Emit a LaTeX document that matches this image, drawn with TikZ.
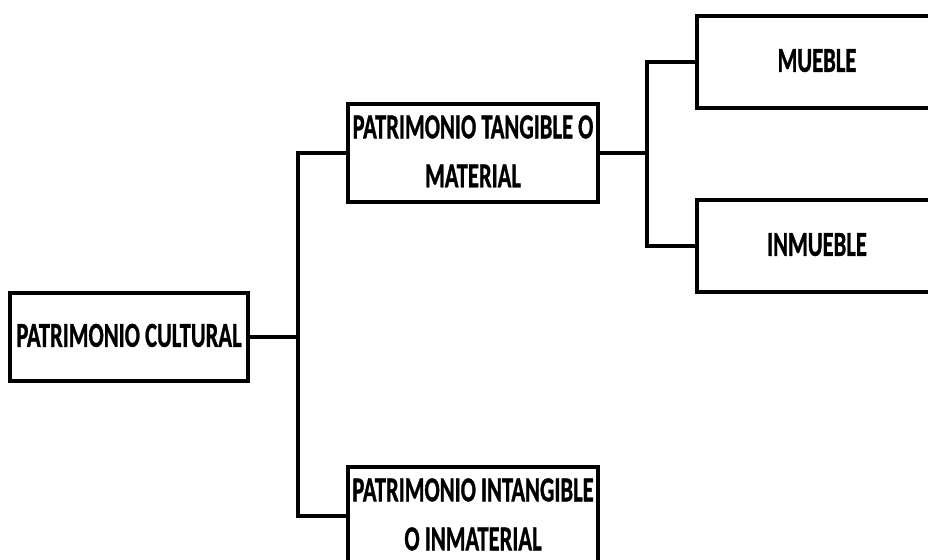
\documentclass[tikz,border=0pt]{standalone}
\usepackage{fontspec}
\setmainfont{Carlito}[BoldFeatures={FakeBold=1.2}]
\usepackage{graphicx}
\begin{document}
\begin{tikzpicture}[x=1pt,y=-1pt,
  box/.style={draw=black, line width=4.5pt, fill=white, rectangle, inner sep=0pt, outer sep=0pt,
    font=\bfseries\fontsize{22.6}{31.6}\selectfont},
  conn/.style={draw=black, line width=4.5pt}]
\clip (0,0) rectangle (928,559);
\fill[white] (0,0) rectangle (928,559);
\newcommand{\txt}[1]{\scalebox{1}[1.55]{\begin{tabular}{@{}c@{}}#1\end{tabular}}}
\node[box, minimum width=238pt, minimum height=88pt] (c) at (129,337) {\txt{PATRIMONIO CULTURAL}};
\node[box, minimum width=250pt, minimum height=90pt] (t) at (473,153) {\txt{PATRIMONIO TANGIBLE O\\MATERIAL}};
\node[box, minimum width=250pt, minimum height=90pt] (i) at (473,516) {\txt{PATRIMONIO INTANGIBLE\\O INMATERIAL}};
\node[box, minimum width=240pt, minimum height=92pt] (m) at (817,62) {\txt{MUEBLE}};
\node[box, minimum width=240pt, minimum height=92pt] (n) at (817,246) {\txt{INMUEBLE}};
\draw[conn] (c.east) -- ++(50,0);
\draw[conn] (t.west) -- ++(-50,0) |- (i.west);
\draw[conn] (t.east) -- ++(49,0);
\draw[conn] (m.west) -- ++(-50,0) |- (n.west);
\end{tikzpicture}
\end{document}
